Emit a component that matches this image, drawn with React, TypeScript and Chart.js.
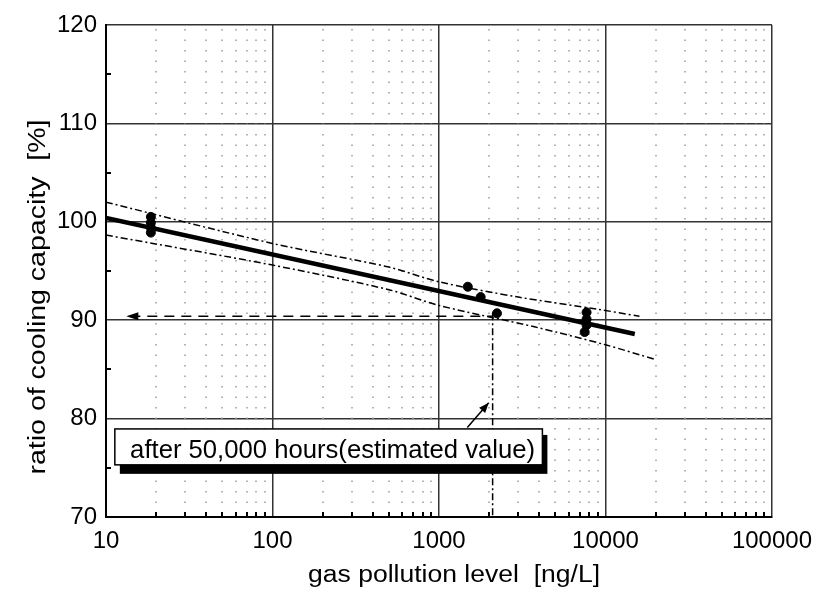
import React, { useEffect, useRef } from "react";
import { Chart, registerables } from "chart.js";
Chart.register(...registerables);

// ---- data ----
const fitX = [10, 15000];
const fitY = [100.4, 88.6];
const upperX = [10, 100, 500, 1000, 3000, 9100, 16000];
const upperY = [102.0, 97.8, 95.4, 93.9, 92.35, 91.1, 90.4];
const lowerX = [10, 100, 500, 1000, 3800, 10000, 20000];
const lowerY = [98.65, 95.6, 93.1, 91.5, 89.3, 87.5, 86.0];
const pointX = [18.6, 18.6, 18.6, 18.6, 1490, 1780, 2230, 7700, 7700, 7700, 7500];
const pointY = [100.5, 99.9, 99.4, 98.9, 93.4, 92.35, 90.7, 90.8, 90.1, 89.5, 88.8];
const guideX = [14, 2100];
const guideY = [90.4, 90.4];
const dropX = [2100, 2100];
const dropY = [90.7, 70];
const xTickValues = [10, 100, 1000, 10000, 100000];
const yTickValues = [70, 80, 90, 100, 110, 120];
const yMinorValues = [75, 85, 95, 105, 115];
const xMinorMultipliers = [2, 3, 4, 5, 6, 7, 8, 9];
const xDecades = [10, 100, 1000, 10000];
const noteText = "after 50,000 hours(estimated value)";
const noteBox = { x1: 11.3, x2: 4180, y1: 78.95, y2: 75.3 };
const noteArrow = { fromX: 1480, fromY: 79.1, toX: 1990, toY: 81.6 };
const xTitle = "gas pollution level  [ng/L]";
const yTitle = "ratio of cooling capacity  [%]";

const FONT = "'Liberation Sans', Arial, sans-serif";

const zip = (xs: number[], ys: number[]) => xs.map((x, i) => ({ x, y: ys[i] }));

function arrowHead(ctx: CanvasRenderingContext2D, fx: number, fy: number, tx: number, ty: number, len: number, wid: number) {
  const ang = Math.atan2(ty - fy, tx - fx);
  ctx.beginPath();
  ctx.moveTo(tx, ty);
  ctx.lineTo(tx - len * Math.cos(ang) + wid * Math.sin(ang), ty - len * Math.sin(ang) - wid * Math.cos(ang));
  ctx.lineTo(tx - len * Math.cos(ang) - wid * Math.sin(ang), ty - len * Math.sin(ang) + wid * Math.cos(ang));
  ctx.closePath();
  ctx.fill();
}

// draws text centred on (cx, baseline), stretched horizontally to the given width
function stretchedText(ctx: CanvasRenderingContext2D, text: string, cx: number, by: number, width: number) {
  const w = ctx.measureText(text).width;
  ctx.save();
  ctx.translate(cx, by);
  ctx.scale(width / w, 1);
  ctx.textAlign = "center";
  ctx.textBaseline = "alphabetic";
  ctx.fillText(text, 0, 0);
  ctx.restore();
}

const decorPlugin = {
  id: "decor",
  beforeDatasetsDraw(chart: any) {
    const { ctx, chartArea } = chart;
    const xs = chart.scales.x;
    const ys = chart.scales.y;
    ctx.save();
    // dotted minor vertical grid
    ctx.strokeStyle = "#9a9a9a";
    ctx.lineWidth = 1.5;
    ctx.setLineDash([1.5, 9]);
    xDecades.forEach((d) => {
      xMinorMultipliers.forEach((m) => {
        const px = Math.round(xs.getPixelForValue(d * m));
        ctx.beginPath();
        ctx.moveTo(px, chartArea.top + 4);
        ctx.lineTo(px, chartArea.bottom);
        ctx.stroke();
      });
    });
    ctx.setLineDash([]);
    // inward minor ticks
    ctx.strokeStyle = "#000";
    ctx.lineWidth = 2;
    xDecades.forEach((d) => {
      xMinorMultipliers.forEach((m) => {
        const px = Math.round(xs.getPixelForValue(d * m));
        ctx.beginPath();
        ctx.moveTo(px, chartArea.bottom);
        ctx.lineTo(px, chartArea.bottom - 5);
        ctx.stroke();
      });
    });
    yMinorValues.forEach((v) => {
      const py = Math.round(ys.getPixelForValue(v));
      ctx.beginPath();
      ctx.moveTo(chartArea.left, py);
      ctx.lineTo(chartArea.left + 5, py);
      ctx.stroke();
    });
    ctx.restore();
  },
  afterDatasetsDraw(chart: any) {
    const { ctx } = chart;
    const xs = chart.scales.x;
    const ys = chart.scales.y;
    ctx.save();
    ctx.fillStyle = "#000";
    ctx.strokeStyle = "#000";
    // arrowhead at left end of horizontal guide
    const gx0 = xs.getPixelForValue(guideX[0]);
    const gy0 = ys.getPixelForValue(guideY[0]);
    arrowHead(ctx, gx0 + 20, gy0, gx0 - 4, gy0, 12, 4);
    // arrow from note box to drop line
    const ax0 = xs.getPixelForValue(noteArrow.fromX);
    const ay0 = ys.getPixelForValue(noteArrow.fromY);
    const ax1 = xs.getPixelForValue(noteArrow.toX);
    const ay1 = ys.getPixelForValue(noteArrow.toY);
    ctx.lineWidth = 1.5;
    ctx.beginPath();
    ctx.moveTo(ax0, ay0);
    ctx.lineTo(ax1, ay1);
    ctx.stroke();
    arrowHead(ctx, ax0, ay0, ax1, ay1, 10, 4);
    // note box with shadow
    const bx1 = xs.getPixelForValue(noteBox.x1);
    const bx2 = xs.getPixelForValue(noteBox.x2);
    const by1 = ys.getPixelForValue(noteBox.y1);
    const by2 = ys.getPixelForValue(noteBox.y2);
    ctx.fillStyle = "#000";
    ctx.fillRect(bx1 + 5, by1 + 6, bx2 - bx1, by2 - by1 + 3);
    ctx.fillStyle = "#fff";
    ctx.fillRect(bx1, by1, bx2 - bx1, by2 - by1);
    ctx.lineWidth = 1.5;
    ctx.strokeRect(bx1, by1, bx2 - bx1, by2 - by1);
    ctx.fillStyle = "#000";
    ctx.font = `25px ${FONT}`;
    stretchedText(ctx, noteText, (bx1 + bx2) / 2 + 4, by1 + 29, 405);
    // axis titles
    ctx.font = `23px ${FONT}`;
    stretchedText(ctx, xTitle, 454, 582, 292);
    ctx.translate(45, 297);
    ctx.rotate(-Math.PI / 2);
    stretchedText(ctx, yTitle, 0, 0, 355);
    ctx.restore();
  },
};

export default function App() {
  const ref = useRef<HTMLCanvasElement>(null);
  useEffect(() => {
    if (!ref.current) return;
    const dashDot = [7, 3, 2, 3];
    const chart = new Chart(ref.current, {
      type: "scatter",
      data: {
        datasets: [
          {
            data: zip(upperX, upperY),
            showLine: true,
            borderColor: "#000",
            borderWidth: 1.5,
            borderDash: dashDot,
            pointRadius: 0,
            tension: 0.3,
          },
          {
            data: zip(lowerX, lowerY),
            showLine: true,
            borderColor: "#000",
            borderWidth: 1.5,
            borderDash: dashDot,
            pointRadius: 0,
            tension: 0.3,
          },
          {
            data: zip(guideX, guideY),
            showLine: true,
            borderColor: "#000",
            borderWidth: 1.5,
            borderDash: [10, 7],
            pointRadius: 0,
          },
          {
            data: zip(dropX, dropY),
            showLine: true,
            borderColor: "#000",
            borderWidth: 1.5,
            borderDash: dashDot,
            pointRadius: 0,
          },
          {
            data: zip(fitX, fitY),
            showLine: true,
            borderColor: "#000",
            borderWidth: 4.5,
            pointRadius: 0,
          },
          {
            data: zip(pointX, pointY),
            showLine: false,
            pointRadius: 4.5,
            pointBackgroundColor: "#000",
            pointBorderColor: "#000",
          },
        ],
      },
      options: {
        animation: false,
        responsive: false,
        events: [],
        layout: { padding: { top: 25, right: 47, left: 0, bottom: 0 } },
        plugins: { legend: { display: false }, tooltip: { enabled: false } },
        scales: {
          x: {
            type: "logarithmic",
            min: 10,
            max: 100000,
            afterFit: (s: any) => {
              s.height = 79;
            },
            afterBuildTicks: (s: any) => {
              s.ticks = xTickValues.map((v) => ({ value: v }));
            },
            ticks: {
              color: "#000",
              font: { family: FONT, size: 24 },
              padding: 10,
              maxRotation: 0,
              autoSkip: false,
              callback: (v: any) => String(v),
            },
            grid: { color: "#333", lineWidth: 1.5, drawTicks: false },
            border: { color: "#000", width: 2 },
          },
          y: {
            min: 70,
            max: 120,
            afterFit: (s: any) => {
              s.width = 106;
            },
            afterBuildTicks: (s: any) => {
              s.ticks = yTickValues.map((v) => ({ value: v }));
            },
            ticks: {
              color: "#000",
              font: { family: FONT, size: 24 },
              padding: 9,
              callback: (v: any) => String(v),
            },
            grid: { color: "#333", lineWidth: 1.5, drawTicks: false },
            border: { color: "#000", width: 2 },
          },
        },
      },
      plugins: [decorPlugin],
    });
    return () => chart.destroy();
  }, []);
  return (
    <div style={{ position: "absolute", left: 0, top: 0, width: 822, height: 596, background: "#fff" }}>
      <canvas ref={ref} width={822} height={596} />
    </div>
  );
}
